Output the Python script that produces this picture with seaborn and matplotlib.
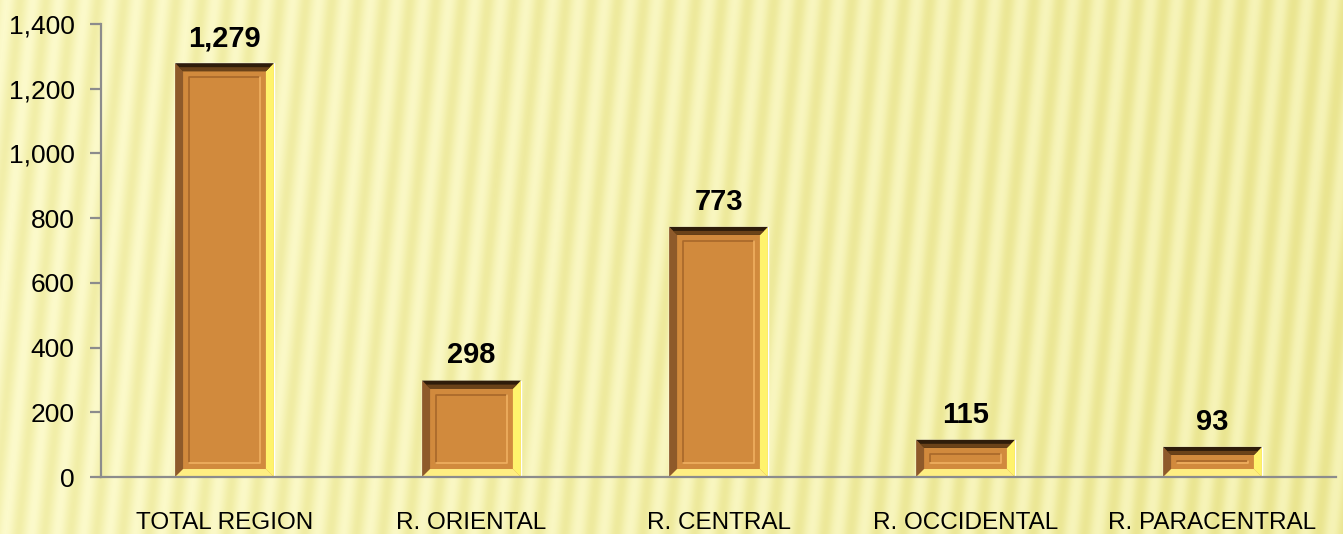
import numpy as np
import pandas as pd
import seaborn as sns
import matplotlib.pyplot as plt
from matplotlib import font_manager
from matplotlib.patches import Polygon
from matplotlib.colors import LinearSegmentedColormap

categories = ["TOTAL REGION", "R. ORIENTAL", "R. CENTRAL", "R. OCCIDENTAL", "R. PARACENTRAL"]
values = [1279, 298, 773, 115, 93]
y_ticks = [0, 200, 400, 600, 800, 1000, 1200, 1400]

df = pd.DataFrame({"region": categories, "count": values})

sns.set_theme(style="white")
installed = {f.name for f in font_manager.fontManager.ttflist}
fam = [f for f in ["Liberation Sans", "DejaVu Sans"] if f in installed]
plt.rcParams["font.family"] = fam

fig = plt.figure(figsize=(13.43, 5.34), dpi=100)

# striped pale yellow background
bg = fig.add_axes([0, 0, 1, 1], zorder=0)
yy, xx = np.mgrid[0:534, 0:1343]
stripes = 0.5 + 0.5 * np.sin(2 * np.pi * (xx + 0.1 * yy) / 26.0)
drift = xx / 1343.0
img = 0.55 * stripes + 0.45 * (1 - drift) * 0.8
cmap = LinearSegmentedColormap.from_list("bgy", ["#EAE590", "#F4F1B0", "#FCFACB"])
bg.imshow(img, cmap=cmap, aspect="auto", extent=[0, 1, 0, 1], origin="upper")
bg.set_axis_off()

ax = fig.add_axes([0.0752, 0.1067, 0.9196, 0.8483], zorder=1)
ax.patch.set_alpha(0)

sns.barplot(data=df, x="region", y="count", color="#D18A3D", width=0.4,
            saturation=1, ax=ax, zorder=2)

ax.set_ylim(0, 1400)
ax.set_xlim(-0.5, len(categories) - 0.5)
ax.set_yticks(y_ticks)
ax.set_yticklabels([f"{v:,}" for v in y_ticks])
ax.set_xlabel("")
ax.set_ylabel("")

# pixel -> data scale for the bevel
pos = ax.get_position()
px_x = len(categories) / (pos.width * 1343)
px_y = 1400 / (pos.height * 534)
b = 8
bx, by = b * px_x, b * px_y

for p in ax.patches:
    x0 = p.get_x()
    x1 = x0 + p.get_width()
    h = p.get_height()
    ix0, ix1 = x0 + bx, x1 - bx
    iy0, iy1 = by, h - by
    # left face
    ax.add_patch(Polygon([[x0, 0], [x0, h], [ix0, iy1], [ix0, iy0]],
                         closed=True, fc="#8E5A2A", ec="none", zorder=3))
    # right face
    ax.add_patch(Polygon([[x1, 0], [x1, h], [ix1, iy1], [ix1, iy0]],
                         closed=True, fc="#FFF36C", ec="none", zorder=3))
    # bottom face
    ax.add_patch(Polygon([[x0, 0], [x1, 0], [ix1, iy0], [ix0, iy0]],
                         closed=True, fc="#FFEE82", ec="none", zorder=3))
    # top face, dark
    ax.add_patch(Polygon([[x0, h], [x1, h], [ix1, iy1], [ix0, iy1]],
                         closed=True, fc="#2E1C0A", ec="none", zorder=3))
    ax.add_patch(Polygon([[x0 + bx * 0.5, h - by * 0.5], [x1 - bx * 0.5, h - by * 0.5],
                          [ix1, iy1], [ix0, iy1]],
                         closed=True, fc="#6A4219", ec="none", zorder=3))
    # inner embossed frame
    fx0, fx1 = ix0 + 6 * px_x, ix1 - 6 * px_x
    fy0, fy1 = iy0 + 6 * px_y, iy1 - 6 * px_y
    if fy1 > fy0:
        ax.plot([fx0, fx0, fx1], [fy0, fy1, fy1], color="#A8682A", lw=1.2, zorder=4)
        ax.plot([fx0, fx1, fx1], [fy0, fy0, fy1], color="#F0B060", lw=1.2, zorder=4)
    ax.annotate(f"{h:,.0f}", (p.get_x() + p.get_width() / 2, h),
                xytext=(0, 8), textcoords="offset points", ha="center", va="bottom",
                fontsize=21, fontweight="bold", color="black")

for side in ["top", "right"]:
    ax.spines[side].set_visible(False)
for side in ["left", "bottom"]:
    ax.spines[side].set_color("#8C8C8C")
    ax.spines[side].set_linewidth(1.6)
    ax.spines[side].set_zorder(5)

ax.set_xticks(range(len(categories)), minor=False)
ax.set_xticks(np.arange(-0.5, len(categories)), minor=True)
ax.tick_params(axis="x", which="major", direction="in", length=7, width=1.6,
               color="#8C8C8C", labelsize=17.5, pad=25)
ax.tick_params(axis="x", which="minor", direction="in", length=8, width=1.6,
               color="#8C8C8C")
ax.tick_params(axis="y", direction="out", length=8, width=1.6, color="#8C8C8C",
               labelsize=19, pad=11, left=True, labelcolor="black")
ax.tick_params(axis="x", labelcolor="black")

fig.savefig("out.png", dpi=100)
